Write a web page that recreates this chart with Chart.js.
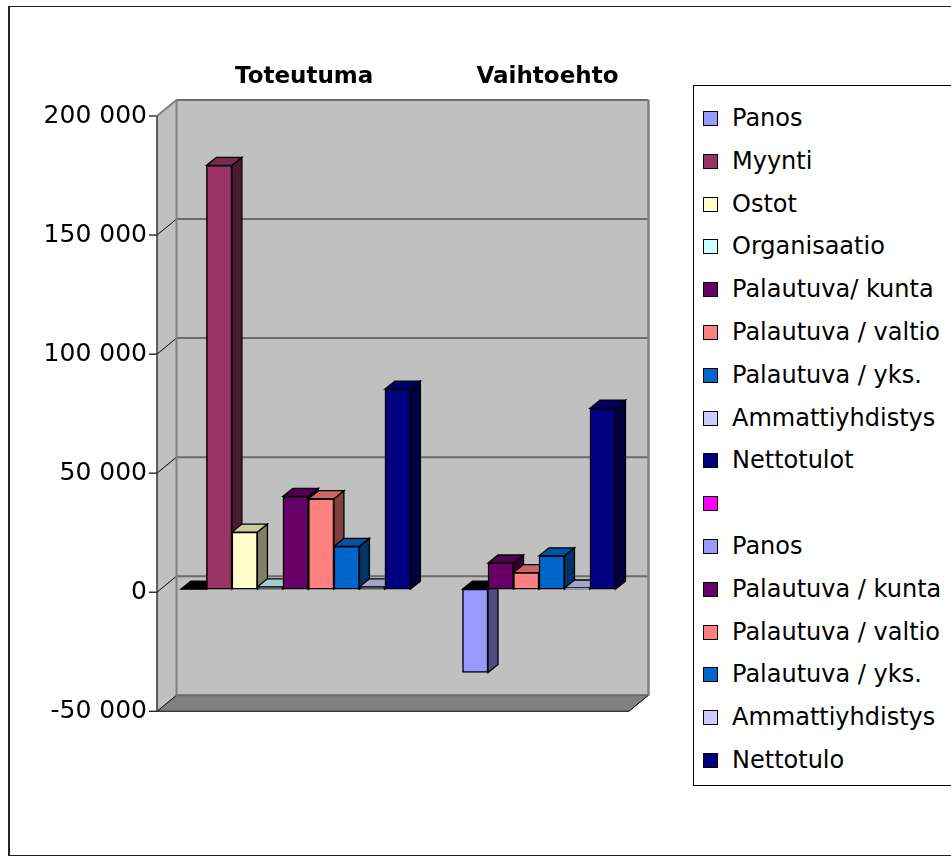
<!DOCTYPE html>
<html>
<head>
<meta charset="utf-8">
<script src="https://cdn.jsdelivr.net/npm/chart.js@4/dist/chart.umd.min.js"></script>
<style>
  html, body { margin: 0; padding: 0; background: #fff; }
  #wrap { position: relative; width: 951px; height: 864px; overflow: hidden; }
  #frame { position: absolute; left: 8px; top: 6px; width: 1000px; height: 848px; border: 1.5px solid #222; border-left-width: 2.5px; }
  canvas { position: absolute; left: 0; top: 0; }
  #legend { position: absolute; left: 693px; top: 85px; width: 400px; height: 699px; border: 1.5px solid #000; background: #fff; font-family: 'DejaVu Sans', sans-serif; font-size: 24px; color: #000; }
  .item { position: absolute; left: 0; height: 28px; line-height: 28px; white-space: nowrap; }
  .box { position: absolute; left: 9px; top: 7px; width: 13px; height: 13px; border: 1px solid #000; }
  .lbl { position: absolute; left: 38px; top: 0; }
</style>
</head>
<body>
<div id="wrap">
  <div id="frame"></div>
  <canvas id="chart" width="951" height="864"></canvas>
  <div id="legend"></div>
</div>
<script>
const categories = ['Toteutuma', 'Vaihtoehto'];

const seriesNames = ['Panos', 'Myynti', 'Ostot', 'Organisaatio', 'Palautuva/ kunta',
  'Palautuva / valtio', 'Palautuva / yks.', 'Ammattiyhdistys', 'Nettotulot', '',
  'Panos', 'Palautuva / kunta', 'Palautuva / valtio', 'Palautuva / yks.', 'Ammattiyhdistys', 'Nettotulo'];

const seriesColors = ['#9999FF', '#993366', '#FFFFCC', '#CCFFFF', '#660066',
  '#FF8080', '#0066CC', '#CCCCFF', '#000080', '#FF00FF',
  '#9999FF', '#660066', '#FF8080', '#0066CC', '#CCCCFF', '#000080'];

// values per series, one array per category (null = no bar)
const toteutuma = [0, 178000, 24000, 1000, 39000, 38000, 18000, 1000, 84000,
  null, null, null, null, null, null, null];
const vaihtoehto = [null, null, null, null, null, null, null, null, null,
  null, -35000, 11000, 7000, 14000, 500, 76000];

const yTicks = [-50000, 0, 50000, 100000, 150000, 200000];

function shade(hex, k) {
  const n = parseInt(hex.slice(1), 16);
  const r = Math.round(((n >> 16) & 255) * k);
  const g = Math.round(((n >> 8) & 255) * k);
  const b = Math.round((n & 255) * k);
  return `rgb(${r},${g},${b})`;
}

function poly(ctx, pts, fill, stroke, lw) {
  ctx.beginPath();
  ctx.moveTo(pts[0][0], pts[0][1]);
  for (let i = 1; i < pts.length; i++) ctx.lineTo(pts[i][0], pts[i][1]);
  ctx.closePath();
  if (fill) { ctx.fillStyle = fill; ctx.fill(); }
  if (stroke) { ctx.strokeStyle = stroke; ctx.lineWidth = lw || 1; ctx.stroke(); }
}

function line(ctx, x1, y1, x2, y2, color, lw) {
  ctx.beginPath();
  ctx.moveTo(x1, y1);
  ctx.lineTo(x2, y2);
  ctx.strokeStyle = color;
  ctx.lineWidth = lw;
  ctx.stroke();
}

// walls, floor and the depth faces of the columns (front faces are drawn by Chart.js)
const walls3d = {
  id: 'walls3d',
  beforeDatasetsDraw(chart) {
    const { ctx, scales: { y } } = chart;
    const L = 157, R = 629, DX = 19.5, DY = -16, off = 3;
    const top = y.getPixelForValue(y.max) + off;
    const bot = y.getPixelForValue(y.min) + off;
    ctx.save();
    // back wall
    poly(ctx, [[L + DX, top + DY], [R + DX, top + DY], [R + DX, bot + DY], [L + DX, bot + DY]], '#c0c0c0');
    // side wall
    poly(ctx, [[L, top], [L + DX, top + DY], [L + DX, bot + DY], [L, bot]], '#c0c0c0');
    // floor
    poly(ctx, [[L, bot], [R, bot], [R + DX, bot + DY], [L + DX, bot + DY]], '#808080');
    // grid lines
    yTicks.forEach(v => {
      const p = y.getPixelForValue(v) + off;
      line(ctx, L + DX, p + DY, R + DX, p + DY, '#6b6b6b', 2);
      line(ctx, L, p, L + DX, p + DY, '#000', 1);
      line(ctx, L - 8, p, L, p, '#000', 1.2);
    });
    line(ctx, L + DX, top + DY, L + DX, bot + DY, '#808080', 2);
    line(ctx, R + DX, top + DY, R + DX, bot + DY, '#808080', 2.5);
    line(ctx, L, top, L + DX, top + DY, '#808080', 2);
    line(ctx, L, bot, R, bot, '#000', 1);
    line(ctx, R, bot, R + DX, bot + DY, '#000', 1);
    line(ctx, L, top, L, bot, '#333', 1.5);

    // column depth faces
    const bx = 10, by = -8;
    const bars = [];
    chart.data.datasets.forEach((ds, i) => {
      const meta = chart.getDatasetMeta(i);
      meta.data.forEach((el, j) => {
        const v = ds.data[j];
        if (v === null || v === undefined) return;
        const p = el.getProps(['x', 'y', 'base', 'width'], true);
        bars.push({ ...p, v, color: ds.backgroundColor });
      });
    });
    bars.sort((a, b) => a.x - b.x);
    bars.forEach(b => {
      const l = b.x - b.width / 2, r = b.x + b.width / 2;
      const hi = Math.min(b.y, b.base), lo = Math.max(b.y, b.base);
      // side
      poly(ctx, [[r, hi], [r + bx, hi + by], [r + bx, lo + by], [r, lo]], shade(b.color, 0.5), '#000', 1.3);
      // top
      const topFill = b.v > 0 ? shade(b.color, 0.8) : '#000';
      poly(ctx, [[l, hi], [r, hi], [r + bx, hi + by], [l + bx, hi + by]], topFill, '#000', 1.3);
    });
    ctx.restore();
  }
};

const datasets = seriesNames.map((name, i) => ({
  label: name,
  data: [toteutuma[i], vaihtoehto[i]],
  backgroundColor: seriesColors[i],
  borderColor: '#000',
  borderWidth: 1.5,
  borderSkipped: false,
  barThickness: 25.5
}));

const chart = new Chart(document.getElementById('chart'), {
  type: 'bar',
  data: { labels: categories, datasets },
  options: {
    responsive: false,
    animation: false,
    devicePixelRatio: 1,
    skipNull: true,
    layout: { padding: { left: 0, top: 23, right: 290.35, bottom: 155.75 } },
    plugins: {
      legend: { display: false },
      tooltip: { enabled: false }
    },
    scales: {
      x: {
        position: 'top',
        grid: { display: false, drawTicks: false },
        border: { display: false },
        ticks: {
          color: '#000',
          padding: 22,
          labelOffset: 8.5,
          maxRotation: 0,
          autoSkip: false,
          font: { family: 'DejaVu Sans', size: 23, weight: 'bold' }
        },
        afterFit(scale) { scale.height = 90; }
      },
      y: {
        min: -50000,
        max: 200000,
        grid: { display: false, drawTicks: false },
        border: { display: false },
        ticks: {
          stepSize: 50000,
          color: '#000',
          padding: 27,
          labelOffset: 3,
          font: { family: 'DejaVu Sans', size: 25 },
          callback: v => String(v).replace(/\B(?=(\d{3})+(?!\d))/g, ' ')
        },
        afterFit(scale) { scale.width = 174; }
      }
    }
  },
  plugins: [walls3d]
});

// legend built from the chart's datasets
const legend = document.getElementById('legend');
chart.data.datasets.forEach((ds, i) => {
  const item = document.createElement('div');
  item.className = 'item';
  item.style.top = (117 - 85 - 14 + i * 42.8) + 'px';
  const box = document.createElement('span');
  box.className = 'box';
  box.style.background = ds.backgroundColor;
  const lbl = document.createElement('span');
  lbl.className = 'lbl';
  lbl.textContent = ds.label;
  item.appendChild(box);
  item.appendChild(lbl);
  legend.appendChild(item);
});
</script>
</body>
</html>
